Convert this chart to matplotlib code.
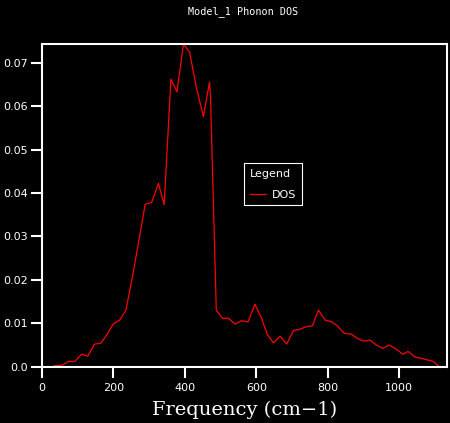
import matplotlib
matplotlib.use('Agg')
import matplotlib.pyplot as plt

# Phonon DOS values
freq = [34, 55, 74, 92, 111, 128, 147, 165, 181, 200, 217, 235, 253, 271, 289,
        307, 326, 342, 361, 378, 396, 413, 433, 452, 469, 472, 488, 506, 521,
        541, 559, 577, 596, 615, 631, 648, 667, 685, 704, 721, 740, 757, 774,
        793, 809, 826, 846, 865, 886, 901, 919, 936, 954, 972, 989, 1010, 1025,
        1045, 1063, 1082, 1096, 1110]
dos = [0.0002, 0.0003, 0.0012, 0.0012, 0.0029, 0.0024, 0.0052, 0.0054, 0.0073,
       0.0099, 0.0107, 0.0130, 0.0206, 0.0289, 0.0374, 0.0378, 0.0422, 0.0373,
       0.0662, 0.0633, 0.0743, 0.0725, 0.0640, 0.0576, 0.0655, 0.0618, 0.0130,
       0.0111, 0.0112, 0.0098, 0.0106, 0.0103, 0.0144, 0.0111, 0.0074, 0.0055,
       0.0070, 0.0052, 0.0083, 0.0086, 0.0092, 0.0094, 0.0130, 0.0107, 0.0104,
       0.0095, 0.0077, 0.0075, 0.0064, 0.0059, 0.0061, 0.0050, 0.0042, 0.0050,
       0.0042, 0.0029, 0.0035, 0.0022, 0.0019, 0.0015, 0.0012, 0.0002]

xticks = [0, 200, 400, 600, 800, 1000]
yticks = [0.0, 0.01, 0.02, 0.03, 0.04, 0.05, 0.06, 0.07]
ytick_labels = ['0.0', '0.01', '0.02', '0.03', '0.04', '0.05', '0.06', '0.07']

W, H = 450, 423
fig = plt.figure(figsize=(W / 100, H / 100), dpi=100, facecolor='black')
ax = fig.add_axes([42 / W, 56.3 / H, 405 / W, 322.7 / H], facecolor='black')

ax.plot(freq, dos, color='#ff0000', linewidth=0.9, label='DOS')

ax.set_xlim(0, 1134)
ax.set_ylim(0, 0.0743)
ax.set_xticks(xticks)
ax.set_yticks(yticks)
ax.set_yticklabels(ytick_labels)

for spine in ax.spines.values():
    spine.set_color('white')
    spine.set_linewidth(1.5)

ax.tick_params(colors='white', labelcolor='white', length=8, width=1.5,
               labelsize=8)
ax.tick_params(axis='y', pad=2.2)
ax.tick_params(axis='x', pad=3.6)

# title and axis label
fig.text(243 / W, 1 - 12 / H, 'Model_1 Phonon DOS', color='white',
         fontsize=7.3, family='DejaVu Sans Mono', ha='center', va='center')
ax.set_xlabel('Frequency (cm\u22121)', color='white', fontsize=14,
              family='DejaVu Serif')
ax.xaxis.set_label_coords(0.5, (H - 410 - 56.3) / 322.7)
ax.xaxis.label.set_va('center')

leg = ax.legend(title='Legend', loc='upper left',
                bbox_to_anchor=(244 / W, 1 - 163 / H),
                bbox_transform=fig.transFigure, borderaxespad=0,
                fontsize=8, title_fontsize=8, alignment='left',
                fancybox=False, facecolor='black', edgecolor='white',
                framealpha=1, borderpad=0.5, handlelength=1.45,
                handletextpad=0.6, labelspacing=1.0)
leg.get_frame().set_linewidth(0.8)
leg.get_title().set_color('white')
for t in leg.get_texts():
    t.set_color('white')

fig.savefig('out.png', dpi=100, facecolor='black')
